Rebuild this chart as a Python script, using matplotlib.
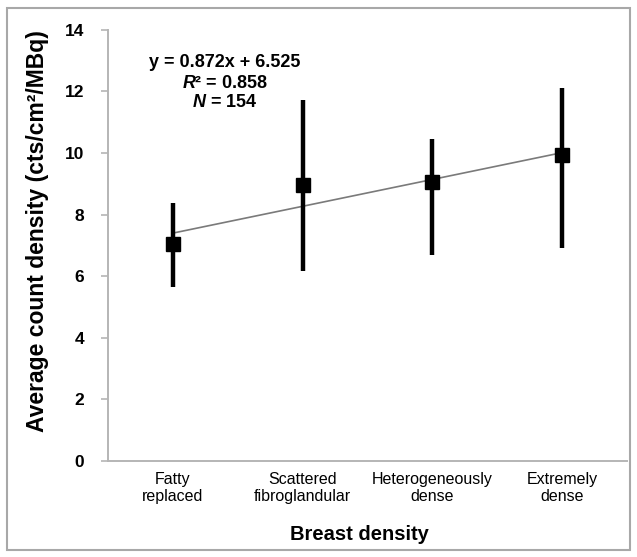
import numpy as np
import matplotlib
matplotlib.use("Agg")
import matplotlib.pyplot as plt
from matplotlib.patches import Rectangle

plt.rcParams["font.family"] = ["Liberation Sans", "DejaVu Sans"]
plt.rcParams["mathtext.fontset"] = "custom"
plt.rcParams["mathtext.rm"] = "Liberation Sans:bold"
plt.rcParams["mathtext.it"] = "Liberation Sans:italic:bold"
plt.rcParams["mathtext.bf"] = "Liberation Sans:bold"

# Data
categories = ["Fatty\nreplaced", "Scattered\nfibroglandular",
              "Heterogeneously\ndense", "Extremely\ndense"]
means = [7.03, 8.95, 9.07, 9.92]
upper = [8.37, 11.73, 10.46, 12.11]
lower = [5.66, 6.15, 6.69, 6.92]
slope = 0.872
intercept = 6.525
r2 = 0.858
n = 154

x = np.arange(1, len(categories) + 1)
yerr = [np.array(means) - np.array(lower), np.array(upper) - np.array(means)]

fig = plt.figure(figsize=(6.37, 5.57), dpi=100)
ax = fig.add_axes([0.1695, 0.1729, 0.8148, 0.7733])

# Linear trend line
fit_x = np.array([x[0], x[-1]])
ax.plot(fit_x, slope * fit_x + intercept, color="#7a7a7a", lw=1.2, zorder=2)

ax.errorbar(x, means, yerr=yerr, fmt="s", color="black", ecolor="black",
            elinewidth=3.2, capsize=0, markersize=10, zorder=3)

ax.set_xlim(0.5, 4.5)
ax.set_ylim(0, 14)
ax.set_yticks(np.arange(0, 15, 2))
ax.set_xticks(x)
ax.set_xticklabels(categories, fontsize=11.5)

for s in ["top", "right"]:
    ax.spines[s].set_visible(False)
for s in ["left", "bottom"]:
    ax.spines[s].set_color("#b5b5b5")
    ax.spines[s].set_linewidth(1.4)

ax.tick_params(axis="y", direction="out", length=5, width=1.2,
               color="#b5b5b5", labelsize=12.5, pad=12)
for lab in ax.get_yticklabels():
    lab.set_fontweight("bold")
ax.tick_params(axis="x", length=0, pad=8)

ax.set_ylabel("Average count density (cts/cm²/MBq)",
              fontsize=16.5, fontweight="bold")
ax.yaxis.set_label_coords(-0.114, 0.533)
ax.set_xlabel("Breast density", fontsize=14.5, fontweight="bold")
ax.xaxis.set_label_coords(0.484, -0.15)

# Regression annotation
ax.text(1.40, 12.93, f"y = {slope:.3f}x + {intercept:.3f}",
        ha="center", va="center", fontsize=13, fontweight="bold")
ax.text(1.40, 12.27, f"$R$² = {r2:.3f}",
        ha="center", va="center", fontsize=13, fontweight="bold")
ax.text(1.40, 11.63, f"$N$ = {n}",
        ha="center", va="center", fontsize=13, fontweight="bold")

# Outer frame
fig.patches.append(Rectangle((7 / 637, 7 / 557), 623 / 637, 542 / 557,
                             transform=fig.transFigure, fill=False,
                             edgecolor="#a8a8a8", lw=1.5))

fig.savefig("out.png", dpi=100)
